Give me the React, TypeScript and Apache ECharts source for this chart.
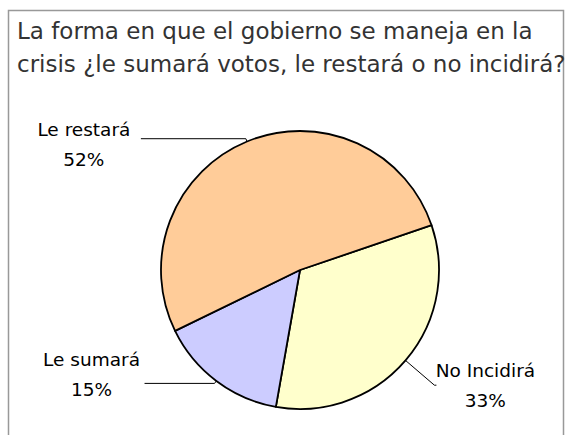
import React, { useEffect, useRef } from "react";
import * as echarts from "echarts";

const titleLines = [
  "La forma en que el gobierno se maneja en la",
  "crisis ¿le sumará votos, le restará o no incidirá?",
];
const categories = ["No Incidirá", "Le sumará", "Le restará"];
const values = [33, 15, 52];
const colors = ["#FFFFCC", "#CCCCFF", "#FFCC99"];
const lineLengths = [
  [38, 2],
  [3, 70],
  [3, 105],
];
const labelShiftX = [-4, 0, -4];
const labelShiftY = [0, -9, 6];

export default function App() {
  const ref = useRef<HTMLDivElement>(null);
  useEffect(() => {
    if (!ref.current) return;
    const chart = echarts.init(ref.current, null, { renderer: "svg" });
    const data = categories.map((name, i) => ({
      name,
      value: values[i],
      itemStyle: { color: colors[i] },
      labelLine: { length: lineLengths[i][0], length2: lineLengths[i][1] },
    }));
    chart.setOption({
      animation: false,
      backgroundColor: "#ffffff",
      title: {
        text: titleLines.join("\n"),
        left: 17,
        top: 14,
        padding: 0,
        textStyle: {
          fontFamily: "DejaVu Sans",
          fontSize: 23,
          lineHeight: 33,
          fontWeight: "normal",
          color: "#333333",
        },
      },
      graphic: [
        {
          type: "rect",
          shape: { x: 8.5, y: 10.5, width: 555, height: 440 },
          style: { fill: "none", stroke: "#999999", lineWidth: 1.5 },
          z: -1,
        },
      ],
      series: [
        {
          type: "pie",
          center: [300, 270],
          radius: 139,
          startAngle: 18.8,
          clockwise: true,
          avoidLabelOverlap: false,
          data,
          itemStyle: { borderColor: "#000000", borderWidth: 1.8 },
          label: {
            show: true,
            position: "outside",
            formatter: (p: any) => `{t|${p.name}}\n{t|${p.value}%}`,
            distanceToLabelLine: 4,
            rich: {
              t: {
                fontFamily: "DejaVu Sans",
                fontSize: 18.5,
                lineHeight: 30,
                color: "#000000",
                width: 98,
                align: "center",
              },
            },
          },
          labelLayout: (p: any) => ({
            dx: labelShiftX[p.dataIndex],
            dy: labelShiftY[p.dataIndex],
          }),
          labelLine: {
            show: true,
            lineStyle: { color: "#000000", width: 1 },
          },
          emphasis: { disabled: true },
        },
      ],
    });
    return () => chart.dispose();
  }, []);
  return (
    <div
      ref={ref}
      style={{ position: "fixed", left: 0, top: 0, width: 568, height: 435 }}
    />
  );
}
